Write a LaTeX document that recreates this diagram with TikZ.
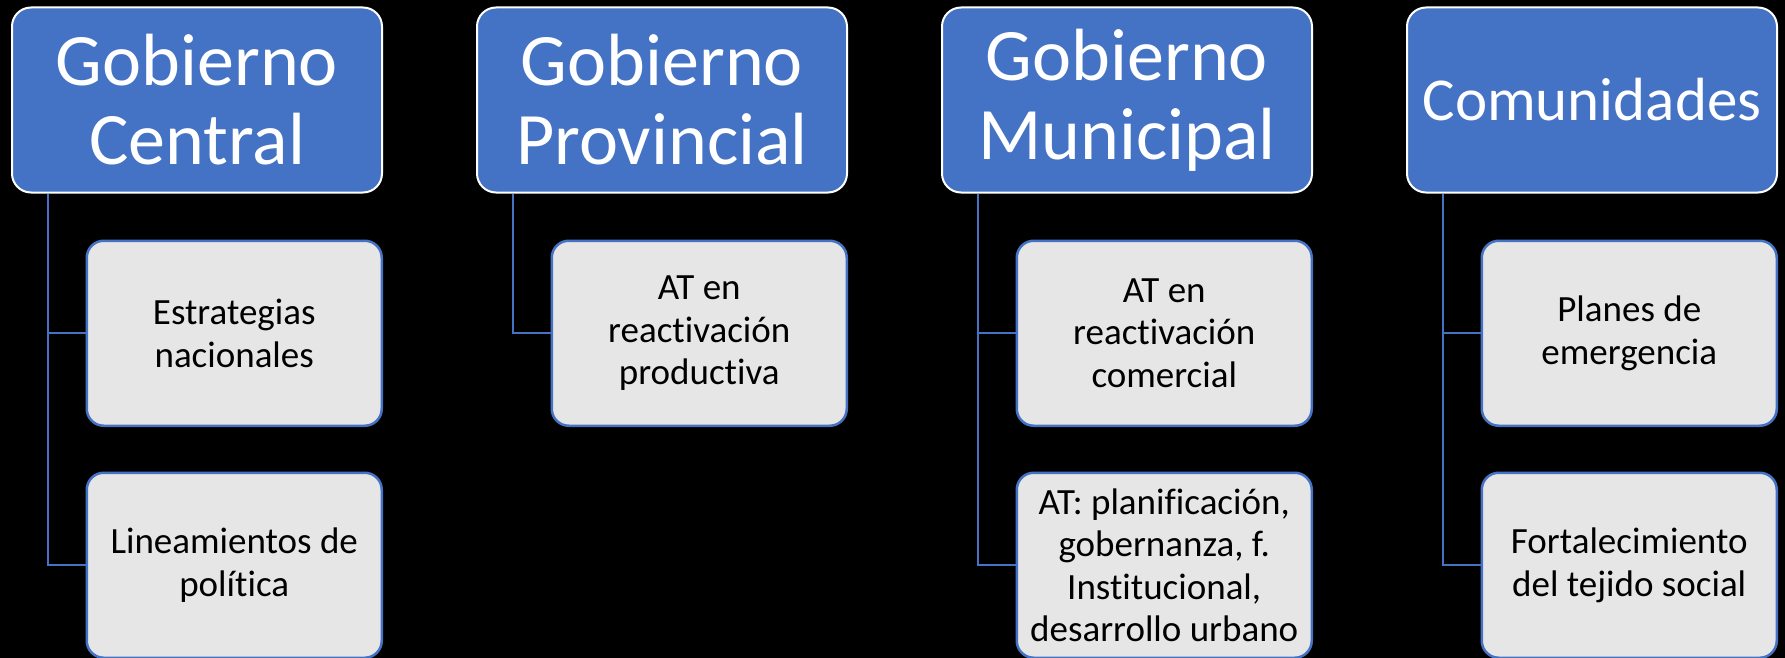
\documentclass[tikz,border=0pt]{standalone}
\usepackage{fontspec}
\setmainfont{Carlito}[Ligatures=NoCommon]
\usetikzlibrary{positioning}
\definecolor{hdrblue}{HTML}{4472C4}
\definecolor{boxgray}{HTML}{E7E6E6}
\begin{document}
\begin{tikzpicture}[x=1pt, y=-1pt, node distance=46pt]
    \tikzstyle{header} = [draw=white, line width=2pt, fill=hdrblue,
	rounded corners=19pt, text width=370pt, minimum height=185pt,
	text=white, align=center, inner sep=0pt,
	font=\fontsize{74}{79}\selectfont]
    \tikzstyle{task} = [draw=hdrblue, line width=2.5pt, fill=boxgray,
	rounded corners=17pt, minimum width=295pt, minimum height=185pt,
	align=center, inner sep=0pt, font=\fontsize{37}{42.5}\selectfont]
    \tikzstyle{elbow} = [draw=hdrblue, line width=2pt,
	to path={|- (\tikztotarget)}]

	\path[use as bounding box, fill=black] (0,0) rectangle (1785,658);

	\begin{scope}
		\path
			node[header] (H1) at (197,100) {Gobierno\\Central}
			node[header] (H2) at (662,100) {Gobierno\\Provincial}
			node[header] (H3) at (1127,100) {Gobierno\\Municipal}
			node[header, font=\fontsize{61}{66}\selectfont] (H4) at (1592,100) {Comunidades}

			coordinate (H1t) at ([xshift=37pt]H1.south west)
			coordinate (H2t) at ([xshift=37pt]H2.south west)
			coordinate (H3t) at ([xshift=37pt]H3.south west)
			coordinate (H4t) at ([xshift=37pt]H4.south west)

			node[task, below left=46pt and 0pt of H1.south east] (C11) {Estrategias\\nacionales}
			node[task, below of=C11, yshift=-186pt] (C12) {Lineamientos de\\política}

			node[task, below left=46pt and 0pt of H2.south east] (C21) {AT en\\reactivación\\productiva}

			node[task, below left=46pt and 0pt of H3.south east] (C31) {AT en\\reactivación\\comercial}
			node[task, below of=C31, yshift=-186pt] (C32) {AT: planificación,\\gobernanza, f.\\Institucional,\\desarrollo urbano}

			node[task, below left=46pt and 0pt of H4.south east] (C41) {Planes de\\emergencia}
			node[task, below of=C41, yshift=-186pt] (C42) {Fortalecimiento\\del tejido social}

			(H1t) edge[elbow] (C11.west)
			(H1t) edge[elbow] (C12.west)
			(H2t) edge[elbow] (C21.west)
			(H3t) edge[elbow] (C31.west)
			(H3t) edge[elbow] (C32.west)
			(H4t) edge[elbow] (C41.west)
			(H4t) edge[elbow] (C42.west)
		;
	\end{scope}
\end{tikzpicture}
\end{document}
